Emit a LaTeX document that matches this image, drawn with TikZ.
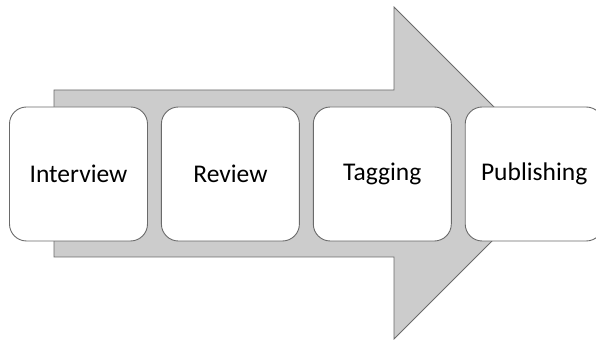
\documentclass[tikz,border=0pt]{standalone}
\usepackage{fontspec}
\setmainfont{Carlito}
\usetikzlibrary{positioning}
\definecolor{arrowgray}{HTML}{CCCCCC}
\definecolor{edgegray}{HTML}{6A6A6A}
\tikzset{
  stage/.style={draw=edgegray, line width=0.9pt, fill=white, rounded corners=17pt,
    minimum width=138pt, minimum height=134pt, inner sep=0pt,
    font=\fontsize{25.5}{30}\selectfont},
}
\begin{document}
\begin{tikzpicture}[x=1pt,y=1pt]
        \useasboundingbox (0,0) rectangle (596,342);
        \clip (0,0) rectangle (596,342);
        % big arrow behind the stages
        \draw [edgegray, line width=0.8pt, fill=arrowgray]
          (54,85) -- (54,252) -- (394,252) -- (394,335) -- (560,169)
          -- (394,3) -- (394,85) -- cycle;
        \node [stage] (n0) at (78.5,168) {Interview};
        \node [stage, right=13pt of n0] (n1) {Review};
        \node [stage, right=13pt of n1] (n2) {Tagging};
        \node [stage, right=13pt of n2] (n3) {Publishing};
      \end{tikzpicture}
\end{document}
